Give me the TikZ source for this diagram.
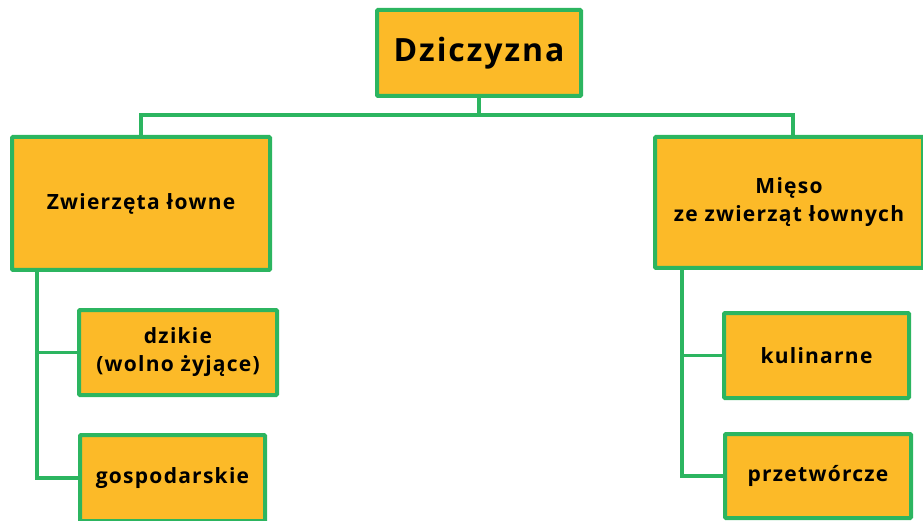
\documentclass[tikz,border=0pt]{standalone}
\usepackage{fontspec}
\setmainfont[LetterSpace=6]{Open Sans}
\definecolor{boxfill}{RGB}{252,186,40}
\definecolor{boxline}{RGB}{44,181,96}
\begin{document}
\begin{tikzpicture}[x=1pt,y=-1pt,
  box/.style={draw=boxline,fill=boxfill,line width=4pt,rounded corners=1pt,
    inner sep=0pt,align=center,font=\bfseries\fontsize{21}{28}\selectfont},
  conn/.style={draw=boxline,line width=3.6pt}]
\useasboundingbox (0,0) rectangle (923,521);
\node[box,minimum width=204pt,minimum height=86pt,font=\bfseries\fontsize{32}{38}\selectfont] (top) at (479,53) {Dziczyzna};
\node[box,minimum width=258pt,minimum height=133pt] (zw) at (141,203.5) {Zwierzęta łowne};
\node[box,minimum width=268pt,minimum height=131pt] (mieso) at (789,202.5) {Mięso\\ze zwierząt łownych};
\node[box,minimum width=198pt,minimum height=85pt] (dz) at (178,352.5) {dzikie\\(wolno żyjące)};
\node[box,minimum width=185pt,minimum height=86pt] (gos) at (172.5,478) {gospodarskie};
\node[box,minimum width=185pt,minimum height=85pt] (kul) at (816.5,355.5) {kulinarne};
\node[box,minimum width=186pt,minimum height=84pt] (prz) at (818,476) {przetwórcze};
\coordinate (bus) at (479,115);
\coordinate (rstem) at ([xshift=4pt]mieso.north);
\coordinate (lv) at ([xshift=27pt]zw.south west);
\coordinate (rv) at ([xshift=29pt]mieso.south west);
\draw[conn] (top.south) -- (bus);
\draw[conn] (zw.north) |- (bus) -| (rstem);
\draw[conn] (lv) |- (dz.west);
\draw[conn] (lv) |- (gos.west);
\draw[conn] (rv) |- (kul.west);
\draw[conn] (rv) |- (prz.west);
\end{tikzpicture}
\end{document}
